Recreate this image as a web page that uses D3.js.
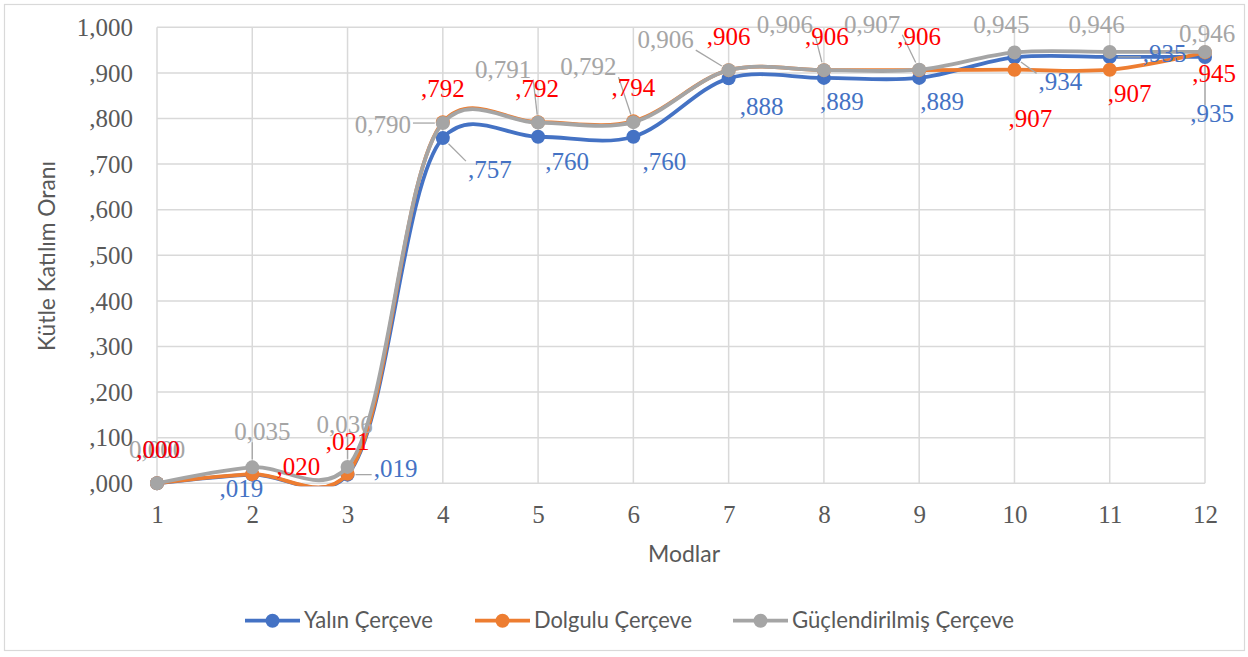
<!DOCTYPE html>
<html><head><meta charset="utf-8">
<script src="https://cdn.jsdelivr.net/npm/d3@7"></script>
<style>body{margin:0;background:#fff} svg{display:block}</style>
</head><body>
<svg id="c" width="1248" height="657"></svg>
<script>
// ---------- data ----------
const categories = ["1","2","3","4","5","6","7","8","9","10","11","12"];
const yTickValues = [0,0.1,0.2,0.3,0.4,0.5,0.6,0.7,0.8,0.9,1.0];
const yTickLabels = [",000",",100",",200",",300",",400",",500",",600",",700",",800",",900","1,000"];
const seriesNames = ["Yalın Çerçeve","Dolgulu Çerçeve","Güçlendirilmiş Çerçeve"];
const yalin   = [0.000,0.019,0.019,0.757,0.760,0.760,0.888,0.889,0.889,0.934,0.935,0.935];
const dolgulu = [0.000,0.020,0.021,0.792,0.792,0.794,0.906,0.906,0.906,0.907,0.907,0.945];
const guclu   = [0.000,0.035,0.036,0.790,0.791,0.792,0.906,0.906,0.907,0.945,0.946,0.946];
const yTitle = "Kütle Katılım Oranı";
const xTitle = "Modlar";

// ---------- layout / style ----------
const W = 1248, H = 657;
const plot = {x0:157, x1:1205, yTop:27.3, yBot:483.3};
const lineColors  = ["#4472C4","#ED7D31","#A5A5A5"];
const labelColors = ["#4472C4","#FF0000","#A5A5A5"];
const leadingZero = [false,false,true];
// label offsets [dx (center), dy (baseline)] relative to point
const labelOffsets = [
  [[1,-25],[-11,22],[48,2],[47,40],[29,33],[31,33],[33,37],[18,32],[23,32],[46,33],[55,5],[7,65]],
  [[1,-25],[46,1],[0,-24],[0,-25],[-1,-25],[0,-25],[0,-25],[3,-25],[0,-25],[16,57],[20,32],[9,30]],
  [[0,-25],[10,-27],[-3,-34],[-60,10],[-35,-45],[-45,-47],[-63,-22],[-39,-37],[-47,-37],[-13,-19],[-13,-19],[2,-10]]
];
const leaders = [
  [0,0,1,1,0,0,0,0,0,1,1,1],
  [0,0,0,0,0,0,0,0,0,0,0,0],
  [0,1,1,1,1,1,1,1,1,0,0,0]
];
const legendX = [245, 475, 733];
const legendTextLen = [129, 158, 222];

const svg = d3.select("#c");
svg.append("rect").attr("width",W).attr("height",H).attr("fill","#fff");
svg.append("rect").attr("x",4.5).attr("y",4.5).attr("width",1240).attr("height",646)
  .attr("fill","none").attr("stroke","#D9D9D9").attr("stroke-width",1.2);

const x = d3.scalePoint().domain(categories).range([plot.x0, plot.x1]);
const y = d3.scaleLinear().domain([0,1]).range([plot.yBot, plot.yTop]);

// gridlines
const grid = svg.append("g");
grid.selectAll("line.h").data(yTickValues).join("line")
  .attr("x1",plot.x0).attr("x2",plot.x1)
  .attr("y1",d=>y(d)).attr("y2",d=>y(d))
  .attr("stroke","#D9D9D9").attr("stroke-width",1.5);
grid.selectAll("line.v").data(categories).join("line")
  .attr("x1",d=>x(d)).attr("x2",d=>x(d))
  .attr("y1",plot.yTop).attr("y2",plot.yBot)
  .attr("stroke","#D9D9D9").attr("stroke-width",1.5);

// axes (labels only)
const yAxis = d3.axisLeft(y).tickValues(yTickValues)
  .tickFormat((d,i)=>yTickLabels[i]).tickSize(0).tickPadding(0);
const gy = svg.append("g").attr("transform",`translate(133,0)`).call(yAxis);
gy.select(".domain").remove();
gy.selectAll("text").attr("font-family","'Liberation Serif','Times New Roman',serif")
  .attr("font-size",25).attr("fill","#595959").attr("dy","0.33em");

const xAxis = d3.axisBottom(x).tickSize(0).tickPadding(0);
const gx = svg.append("g").attr("transform",`translate(0,${plot.yBot})`).call(xAxis);
gx.select(".domain").remove();
gx.selectAll("text").attr("font-family","'Liberation Serif','Times New Roman',serif")
  .attr("font-size",25).attr("fill","#595959").attr("dy",0).attr("y",40);

// titles
svg.append("text").text(yTitle)
  .attr("transform","translate(55,256) rotate(-90)").attr("text-anchor","middle")
  .attr("font-family","Lato, 'Open Sans', sans-serif").attr("font-size",24).attr("fill","#595959")
  .attr("textLength",190).attr("lengthAdjust","spacingAndGlyphs");
svg.append("text").text(xTitle)
  .attr("x",684).attr("y",562).attr("text-anchor","middle")
  .attr("font-family","Lato, 'Open Sans', sans-serif").attr("font-size",24).attr("fill","#595959")
  .attr("textLength",72).attr("lengthAdjust","spacingAndGlyphs");

// clip for lines
svg.append("defs").append("clipPath").attr("id","pc").append("rect")
  .attr("x",0).attr("y",0).attr("width",W).attr("height",plot.yBot+3);

const allSeries = [yalin, dolgulu, guclu];
const line = d3.line().x((d,i)=>x(categories[i])).y(d=>y(d)).curve(d3.curveCatmullRom.alpha(0.3));
const R = 7;
allSeries.forEach((vals,s)=>{
  const g = svg.append("g");
  g.append("path").datum(vals).attr("d",line).attr("fill","none")
    .attr("stroke",lineColors[s]).attr("stroke-width",3.8).attr("stroke-linejoin","round")
    .attr("clip-path","url(#pc)");
  g.selectAll("circle").data(vals).join("circle")
    .attr("cx",(d,i)=>x(categories[i])).attr("cy",d=>y(d)).attr("r",R)
    .attr("fill",lineColors[s]);
});

// data labels
function fmt(v, lz){
  let t = d3.format(".3f")(v).replace(".",",");
  if(!lz && t.startsWith("0")) t = t.slice(1);
  return t;
}
const labelOrder = [2,0,1];
const leaderG = svg.append("g");
labelOrder.forEach(s=>{
  const vals = allSeries[s];
  const g = svg.append("g");
  vals.forEach((v,i)=>{
    const px = x(categories[i]), py = y(v);
    const [dx,dy] = labelOffsets[s][i];
    const t = g.append("text").text(fmt(v,leadingZero[s]))
      .attr("x",px+dx).attr("y",py+dy).attr("text-anchor","middle")
      .attr("font-family","'Liberation Serif','Times New Roman',serif")
      .attr("font-size",25).attr("fill",labelColors[s]);
    if(leaders[s][i]){
      const b = t.node().getBBox();
      const bx0=b.x-2, bx1=b.x+b.width+2, by0=b.y+5, by1=b.y+b.height-3;
      const qx = Math.max(bx0, Math.min(px, bx1));
      const qy = Math.max(by0, Math.min(py, by1));
      const ddx = px-qx, ddy = py-qy, dist = Math.hypot(ddx,ddy);
      if(dist > R+3){
        const ex = px - ddx/dist*(R+1), ey = py - ddy/dist*(R+1);
        leaderG.append("line").attr("x1",qx).attr("y1",qy).attr("x2",ex).attr("y2",ey)
          .attr("stroke","#A6A6A6").attr("stroke-width",1.3);
      }
    }
  });
});

// legend
const lg = svg.append("g");
seriesNames.forEach((name,s)=>{
  const lx = legendX[s], ly = 620.7;
  lg.append("line").attr("x1",lx).attr("x2",lx+55).attr("y1",ly).attr("y2",ly)
    .attr("stroke",lineColors[s]).attr("stroke-width",3.8);
  lg.append("circle").attr("cx",lx+27.5).attr("cy",ly).attr("r",R).attr("fill",lineColors[s]);
  lg.append("text").text(name).attr("x",lx+59).attr("y",627.5)
    .attr("font-family","Lato, 'Open Sans', sans-serif").attr("font-size",24).attr("fill","#595959")
    .attr("textLength",legendTextLen[s]).attr("lengthAdjust","spacingAndGlyphs");
});
</script>
</body></html>
